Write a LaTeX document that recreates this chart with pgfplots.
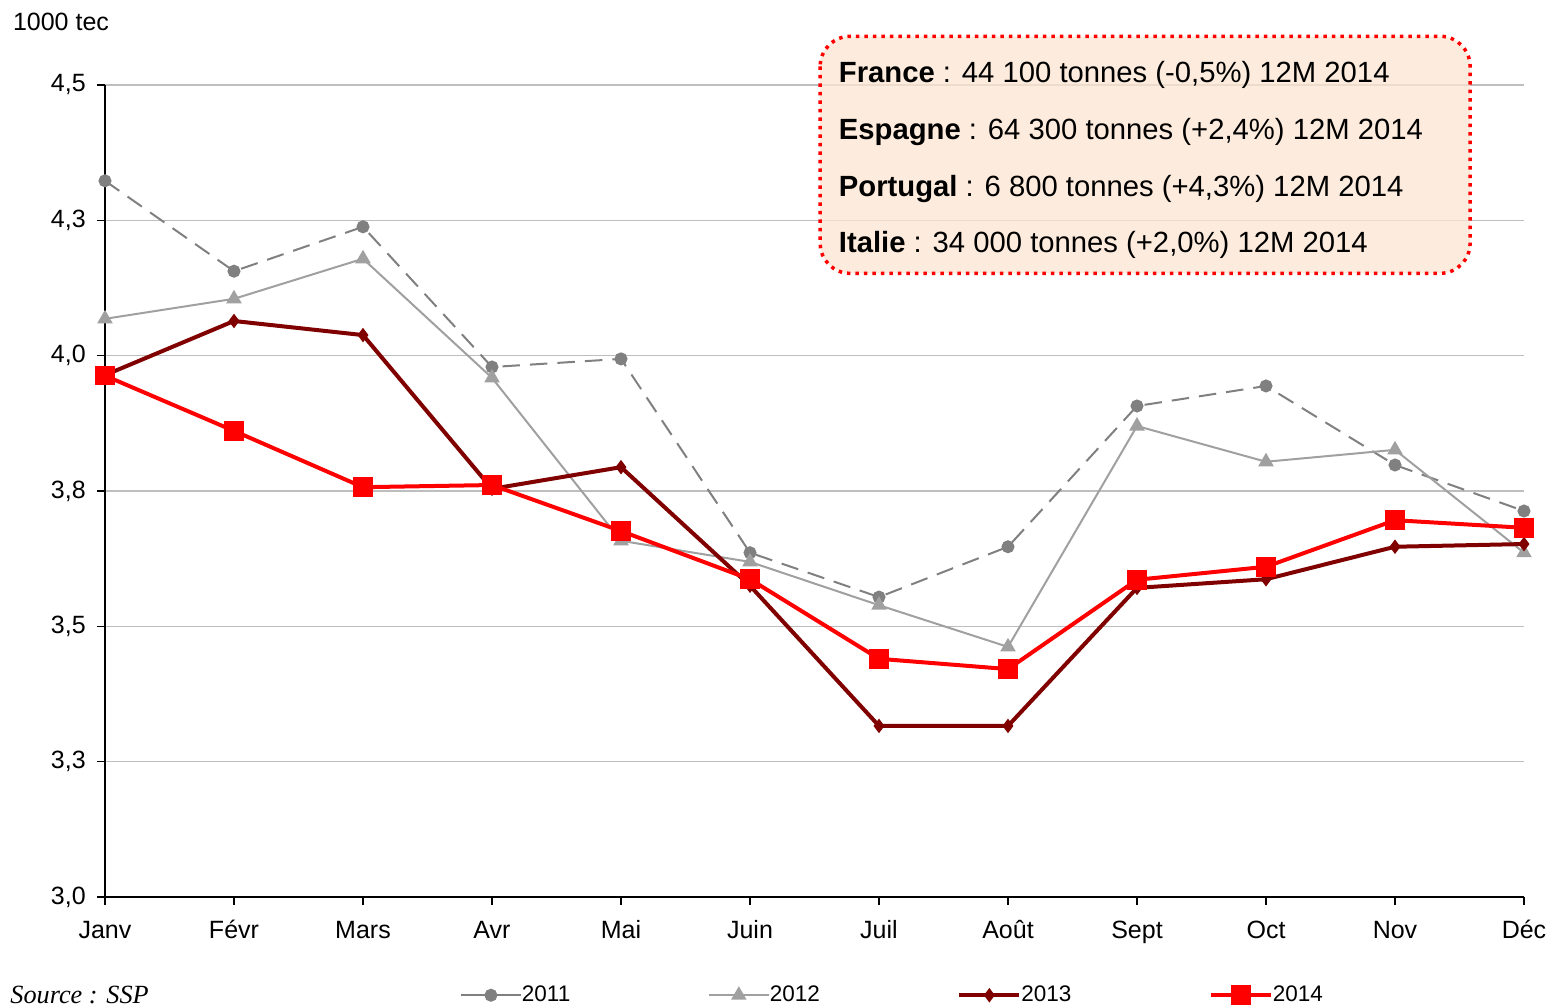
\documentclass[border=0pt]{standalone}
\usepackage{fontspec}
\setmainfont{Liberation Sans}
\newfontfamily\timesfont{Liberation Serif}
\usepackage{pgfplots}
\pgfplotsset{compat=1.18}
\definecolor{c2011}{RGB}{128,128,128}
\definecolor{c2012}{RGB}{160,160,160}
\definecolor{c2013}{RGB}{128,0,0}
\definecolor{c2014}{RGB}{255,0,0}
\definecolor{peach}{RGB}{253,230,210}
\definecolor{gridc}{RGB}{190,190,190}
\begin{document}
\begin{tikzpicture}
\begin{axis}[
  name=ax,
  scale only axis,
  width=567.6pt, height=324.8pt,
  xmin=0, xmax=11, ymin=3.0, ymax=4.5,
  xtick={0,...,11},
  xticklabels={Janv,Févr,Mars,Avr,Mai,Juin,Juil,Août,Sept,Oct,Nov,Déc},
  ytick={3.0,3.25,3.5,3.75,4.0,4.25,4.5},
  yticklabels={{3,0},{3,3},{3,5},{3,8},{4,0},{4,3},{4,5}},
  ymajorgrids, grid style={gridc, line width=0.6pt},
  axis x line*=bottom, axis y line*=left,
  axis line style={black, line width=0.6pt},
  tick style={black, line width=0.6pt},
  tick align=outside, major tick length=3.2pt,
  ticklabel style={font=\fontsize{10}{12}\selectfont},
  xticklabel style={text height=7.5pt, text depth=2pt, yshift=-2.5pt},
  yticklabel style={xshift=-1pt},
  /pgf/number format/assume math mode=true,
  clip=false,
  legend columns=4,
  legend style={draw=none, fill=none, at={(rel axis cs:0.556,-0.121)}, anchor=center,
    font=\fontsize{9}{10}\selectfont, /tikz/every even column/.append style={column sep=53pt},
    /tikz/every odd column/.append style={column sep=-2pt}},
  legend image code/.code={\draw[#1, solid] (0pt,0pt) -- (24pt,0pt); \draw[#1, solid, only marks] plot coordinates {(12pt,0pt)};},
]
\draw[red, line width=1.4pt, dotted, rounded corners=12pt, fill=peach, fill opacity=0.75]
  (rel axis cs:0.504,1.060) rectangle (rel axis cs:0.962,0.768);
\node[anchor=west, font=\fontsize{11.7}{14}\selectfont] at (rel axis cs:0.511,1.012) {\textbf{France} : 44 100 tonnes (-0,5\%) 12M 2014};
\node[anchor=west, font=\fontsize{11.7}{14}\selectfont] at (rel axis cs:0.511,0.942) {\textbf{Espagne} : 64 300 tonnes (+2,4\%) 12M 2014};
\node[anchor=west, font=\fontsize{11.7}{14}\selectfont] at (rel axis cs:0.511,0.872) {\textbf{Portugal} : 6 800 tonnes (+4,3\%) 12M 2014};
\node[anchor=west, font=\fontsize{11.7}{14}\selectfont] at (rel axis cs:0.511,0.803) {\textbf{Italie} : 34 000 tonnes (+2,0\%) 12M 2014};
\node[font=\fontsize{10}{12}\selectfont] at (rel axis cs:-0.031,1.078) {1000 tec};
\node[anchor=west, inner sep=0pt, font=\fontsize{10.5}{12}\timesfont\itshape] at (rel axis cs:-0.067,-0.121) {Source : SSP};

\addplot[c2011, line width=0.8pt, dash pattern=on 7pt off 4pt, mark=*, mark size=2.2pt, mark options={solid, fill=c2011, draw=c2011}]
 coordinates {(0,4.323)(1,4.156)(2,4.238)(3,3.979)(4,3.994)(5,3.636)(6,3.554)(7,3.647)(8,3.907)(9,3.944)(10,3.798)(11,3.713)};
\addlegendentry{2011}
\addplot[c2012, line width=0.8pt, mark=triangle*, mark size=2.8pt, mark options={solid, fill=c2012, draw=c2012}]
 coordinates {(0,4.068)(1,4.105)(2,4.179)(3,3.959)(4,3.658)(5,3.619)(6,3.539)(7,3.462)(8,3.870)(9,3.804)(10,3.826)(11,3.636)};
\addlegendentry{2012}
\addplot[c2013, line width=1.6pt, mark=diamond*, mark size=2.5pt, mark options={solid, fill=c2013, draw=c2013, line width=0.5pt}]
 coordinates {(0,3.964)(1,4.064)(2,4.038)(3,3.754)(4,3.794)(5,3.575)(6,3.316)(7,3.316)(8,3.571)(9,3.587)(10,3.647)(11,3.652)};
\addlegendentry{2013}
\addplot[c2014, line width=1.6pt, mark=square*, mark size=3.1pt, mark options={solid, fill=c2014, draw=c2014}]
 coordinates {(0,3.963)(1,3.861)(2,3.757)(3,3.761)(4,3.676)(5,3.587)(6,3.440)(7,3.421)(8,3.586)(9,3.610)(10,3.696)(11,3.682)};
\addlegendentry{2014}
\end{axis}
\pgfresetboundingbox
\path[use as bounding box] ([xshift=-42pt, yshift=-44pt]ax.south west) rectangle ([xshift=11.6pt, yshift=34pt]ax.north east);
\end{tikzpicture}
\end{document}
